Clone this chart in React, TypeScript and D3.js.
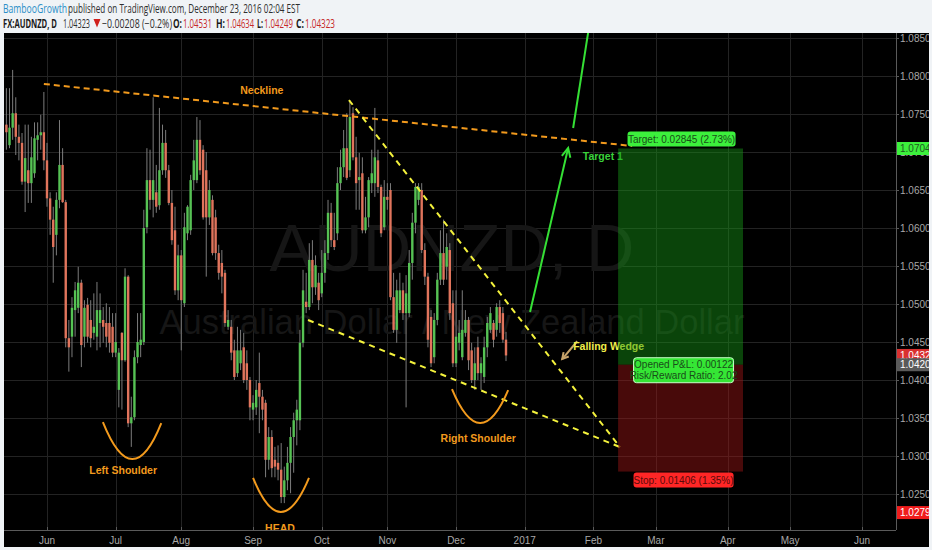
import React from 'react';
import * as d3 from 'd3';

const W = 932;
const H = 550;
const plot = { left: 4, right: 896, top: 33, bottom: 530, panelRight: 929, panelBottom: 547 };

// first daily bar shown (FX, weekdays only)
const firstBar = new Date(2016, 4, 13);

// daily candles [open, high, low, close]
const candles: number[][] = [
  [1.0736, 1.0784, 1.0703, 1.0726], [1.0709, 1.0784, 1.0705, 1.0732], [1.0732, 1.0808, 1.0716, 1.0751],
  [1.0751, 1.0772, 1.0696, 1.0720], [1.0720, 1.0736, 1.0689, 1.0712], [1.0712, 1.0725, 1.0657, 1.0661],
  [1.0661, 1.0736, 1.0621, 1.0692], [1.0676, 1.0736, 1.0633, 1.0659], [1.0659, 1.0720, 1.0633, 1.0693],
  [1.0672, 1.0739, 1.0666, 1.0718], [1.0716, 1.0739, 1.0689, 1.0722], [1.0722, 1.0749, 1.0703, 1.0726],
  [1.0726, 1.0779, 1.0676, 1.0689], [1.0689, 1.0712, 1.0628, 1.0639], [1.0639, 1.0647, 1.0591, 1.0611],
  [1.0611, 1.0628, 1.0528, 1.0575], [1.0591, 1.0647, 1.0564, 1.0637], [1.0637, 1.0742, 1.0626, 1.0683],
  [1.0683, 1.0705, 1.0633, 1.0634], [1.0634, 1.0637, 1.0443, 1.0455], [1.0455, 1.0479, 1.0411, 1.0443],
  [1.0457, 1.0509, 1.0430, 1.0495], [1.0492, 1.0529, 1.0457, 1.0518], [1.0495, 1.0549, 1.0488, 1.0528],
  [1.0528, 1.0532, 1.0417, 1.0446], [1.0457, 1.0505, 1.0443, 1.0495], [1.0499, 1.0508, 1.0449, 1.0457],
  [1.0479, 1.0505, 1.0443, 1.0455], [1.0462, 1.0514, 1.0453, 1.0470], [1.0457, 1.0529, 1.0439, 1.0492],
  [1.0475, 1.0514, 1.0443, 1.0492], [1.0479, 1.0496, 1.0449, 1.0470], [1.0475, 1.0501, 1.0443, 1.0457],
  [1.0475, 1.0496, 1.0436, 1.0449], [1.0470, 1.0488, 1.0430, 1.0436], [1.0436, 1.0488, 1.0430, 1.0450],
  [1.0387, 1.0442, 1.0364, 1.0436], [1.0462, 1.0463, 1.0361, 1.0426], [1.0426, 1.0547, 1.0424, 1.0536],
  [1.0536, 1.0538, 1.0338, 1.0343], [1.0343, 1.0378, 1.0312, 1.0351], [1.0351, 1.0439, 1.0347, 1.0430],
  [1.0430, 1.0488, 1.0422, 1.0450], [1.0446, 1.0488, 1.0430, 1.0453], [1.0450, 1.0624, 1.0446, 1.0600],
  [1.0601, 1.0705, 1.0593, 1.0663], [1.0663, 1.0703, 1.0624, 1.0637], [1.0637, 1.0772, 1.0614, 1.0663],
  [1.0647, 1.0683, 1.0620, 1.0628], [1.0630, 1.0758, 1.0624, 1.0676], [1.0676, 1.0736, 1.0670, 1.0712],
  [1.0712, 1.0729, 1.0666, 1.0676], [1.0676, 1.0683, 1.0630, 1.0633], [1.0633, 1.0650, 1.0578, 1.0584],
  [1.0597, 1.0628, 1.0512, 1.0518], [1.0518, 1.0578, 1.0505, 1.0564], [1.0564, 1.0571, 1.0439, 1.0505],
  [1.0501, 1.0620, 1.0496, 1.0601], [1.0593, 1.0630, 1.0584, 1.0628], [1.0597, 1.0670, 1.0591, 1.0663],
  [1.0663, 1.0716, 1.0650, 1.0689], [1.0663, 1.0746, 1.0659, 1.0716], [1.0716, 1.0742, 1.0670, 1.0676],
  [1.0703, 1.0709, 1.0611, 1.0614], [1.0676, 1.0700, 1.0536, 1.0614], [1.0614, 1.0663, 1.0604, 1.0650],
  [1.0637, 1.0643, 1.0564, 1.0567], [1.0614, 1.0624, 1.0558, 1.0567], [1.0567, 1.0578, 1.0532, 1.0541],
  [1.0554, 1.0571, 1.0514, 1.0536], [1.0541, 1.0545, 1.0470, 1.0475], [1.0470, 1.0492, 1.0466, 1.0479],
  [1.0470, 1.0479, 1.0426, 1.0436], [1.0439, 1.0453, 1.0400, 1.0404], [1.0409, 1.0470, 1.0404, 1.0439],
  [1.0422, 1.0466, 1.0413, 1.0439], [1.0443, 1.0462, 1.0396, 1.0400], [1.0422, 1.0439, 1.0387, 1.0400],
  [1.0400, 1.0404, 1.0347, 1.0364], [1.0361, 1.0380, 1.0347, 1.0370], [1.0364, 1.0400, 1.0354, 1.0387],
  [1.0396, 1.0436, 1.0330, 1.0378], [1.0378, 1.0387, 1.0347, 1.0361], [1.0370, 1.0374, 1.0272, 1.0295],
  [1.0295, 1.0338, 1.0282, 1.0325], [1.0325, 1.0334, 1.0272, 1.0284], [1.0295, 1.0312, 1.0272, 1.0286],
  [1.0291, 1.0314, 1.0268, 1.0282], [1.0282, 1.0317, 1.0238, 1.0246], [1.0246, 1.0286, 1.0238, 1.0268],
  [1.0268, 1.0312, 1.0255, 1.0291], [1.0291, 1.0338, 1.0251, 1.0325], [1.0325, 1.0357, 1.0278, 1.0347],
  [1.0347, 1.0374, 1.0314, 1.0361], [1.0347, 1.0466, 1.0334, 1.0449], [1.0449, 1.0545, 1.0443, 1.0518],
  [1.0503, 1.0541, 1.0488, 1.0496], [1.0496, 1.0580, 1.0492, 1.0558], [1.0558, 1.0584, 1.0501, 1.0522],
  [1.0522, 1.0564, 1.0512, 1.0551], [1.0528, 1.0541, 1.0492, 1.0505], [1.0514, 1.0571, 1.0509, 1.0541],
  [1.0541, 1.0584, 1.0528, 1.0567], [1.0567, 1.0637, 1.0558, 1.0620], [1.0620, 1.0633, 1.0575, 1.0584],
  [1.0584, 1.0620, 1.0571, 1.0575], [1.0593, 1.0680, 1.0584, 1.0659], [1.0659, 1.0703, 1.0650, 1.0680],
  [1.0680, 1.0729, 1.0667, 1.0705], [1.0705, 1.0751, 1.0663, 1.0666], [1.0676, 1.0768, 1.0667, 1.0746],
  [1.0751, 1.0759, 1.0689, 1.0693], [1.0693, 1.0720, 1.0624, 1.0659], [1.0663, 1.0699, 1.0624, 1.0667],
  [1.0672, 1.0693, 1.0593, 1.0597], [1.0597, 1.0641, 1.0593, 1.0614], [1.0614, 1.0667, 1.0601, 1.0663],
  [1.0659, 1.0703, 1.0646, 1.0672], [1.0659, 1.0758, 1.0641, 1.0693], [1.0689, 1.0703, 1.0646, 1.0654],
  [1.0654, 1.0657, 1.0588, 1.0593], [1.0601, 1.0663, 1.0597, 1.0641], [1.0641, 1.0659, 1.0624, 1.0637],
  [1.0650, 1.0659, 1.0505, 1.0509], [1.0509, 1.0541, 1.0462, 1.0466], [1.0466, 1.0532, 1.0449, 1.0518],
  [1.0492, 1.0541, 1.0488, 1.0518], [1.0518, 1.0528, 1.0479, 1.0488], [1.0488, 1.0538, 1.0364, 1.0514],
  [1.0488, 1.0571, 1.0483, 1.0554], [1.0554, 1.0620, 1.0532, 1.0607], [1.0607, 1.0659, 1.0593, 1.0654],
  [1.0637, 1.0659, 1.0630, 1.0654], [1.0650, 1.0659, 1.0567, 1.0571], [1.0571, 1.0580, 1.0525, 1.0536],
  [1.0536, 1.0541, 1.0443, 1.0453], [1.0483, 1.0492, 1.0417, 1.0422], [1.0430, 1.0488, 1.0422, 1.0479],
  [1.0479, 1.0541, 1.0472, 1.0532], [1.0532, 1.0597, 1.0525, 1.0567], [1.0567, 1.0611, 1.0525, 1.0532],
  [1.0549, 1.0593, 1.0532, 1.0575], [1.0571, 1.0580, 1.0479, 1.0488], [1.0501, 1.0518, 1.0417, 1.0422],
  [1.0422, 1.0518, 1.0417, 1.0457], [1.0449, 1.0479, 1.0439, 1.0462], [1.0430, 1.0518, 1.0426, 1.0466],
  [1.0462, 1.0492, 1.0457, 1.0479], [1.0479, 1.0483, 1.0413, 1.0426], [1.0439, 1.0449, 1.0396, 1.0400],
  [1.0400, 1.0443, 1.0387, 1.0422], [1.0443, 1.0457, 1.0400, 1.0409], [1.0409, 1.0430, 1.0387, 1.0422],
  [1.0404, 1.0457, 1.0396, 1.0443], [1.0443, 1.0483, 1.0430, 1.0475], [1.0466, 1.0496, 1.0462, 1.0488],
  [1.0475, 1.0479, 1.0443, 1.0453], [1.0466, 1.0501, 1.0457, 1.0496], [1.0496, 1.0505, 1.0462, 1.0475],
  [1.0488, 1.0496, 1.0449, 1.04531], [1.04531, 1.04634, 1.04249, 1.04323],
];

const priceTicks = [1.025, 1.03, 1.035, 1.04, 1.045, 1.05, 1.055, 1.06, 1.065, 1.07, 1.075, 1.08, 1.085];
const monthStarts = [
  new Date(2016, 5, 1), new Date(2016, 6, 1), new Date(2016, 7, 1), new Date(2016, 8, 1),
  new Date(2016, 9, 3), new Date(2016, 10, 1), new Date(2016, 11, 1), new Date(2017, 0, 2),
  new Date(2017, 1, 1), new Date(2017, 2, 1), new Date(2017, 3, 3), new Date(2017, 4, 1), new Date(2017, 5, 1),
];
const monthLabels = ['Jun', 'Jul', 'Aug', 'Sep', 'Oct', 'Nov', 'Dec', '2017', 'Feb', 'Mar', 'Apr', 'May', 'Jun'];

// position tool
const entryPrice = 1.04201;
const targetPrice = 1.07046;
const stopPrice = 1.02795;
const lastPrice = 1.04323;
const positionBars = [195.9, 235.9];

// drawings, as [bar index, price]
const neckline = [[12.0, 1.07895], [200.4, 1.07079]];
const wedgeUpper = [[109.7, 1.07684], [196.5, 1.03118]];
const wedgeLower = [[96.6, 1.04789], [196.5, 1.03118]];
const targetArrow = [[167.7, 1.04895], [179.9, 1.07053]];
const targetLine2 = [[181.5, 1.07316], [186.8, 1.0870]];
const wedgeArrow = [[182.8, 1.0451], [178.0, 1.04276]];
// arcs: start, bottom, end
const shoulderArcs = [
  [[30.9, 1.03447], [40.3, 1.02960], [49.6, 1.03434]],
  [[79.0, 1.02711], [87.9, 1.02263], [96.9, 1.02711]],
  [[142.7, 1.03881], [151.7, 1.03435], [160.7, 1.03868]],
];
const patternLabels = [
  { text: 'Neckline', at: [81.8, 1.0776] },
  { text: 'Left Shoulder', at: [37.4, 1.0276] },
  { text: 'HEAD', at: [87.6, 1.0200] },
  { text: 'Right Shoulder', at: [151.1, 1.0319] },
];

function barIndex(d: Date) {
  let n = 0;
  const cur = new Date(firstBar);
  while (cur < d) {
    const wd = cur.getDay();
    if (wd !== 0 && wd !== 6) n++;
    cur.setDate(cur.getDate() + 1);
  }
  return n;
}

const x = d3.scaleLinear().domain([-0.77, 284.9]).range([plot.left, plot.right]);
const y = d3.scaleLinear().domain([1.0500, 1.0850]).range([304, 38]);

const pt = (p: number[]) => [x(p[0]), y(p[1])];

const arcPath = (a: number[][]) => {
  const [s, b, e] = a.map(pt);
  const cx = 2 * b[0] - (s[0] + e[0]) / 2;
  const cy = 2 * b[1] - (s[1] + e[1]) / 2;
  const p = d3.path();
  p.moveTo(s[0], s[1]);
  p.quadraticCurveTo(cx, cy, e[0], e[1]);
  return p.toString();
};

const arrowHead = (from: number[], to: number[], len = 10, ang = 0.45) => {
  const [x1, y1] = pt(from);
  const [x2, y2] = pt(to);
  const a = Math.atan2(y1 - y2, x1 - x2);
  const p = d3.path();
  p.moveTo(x2 + len * Math.cos(a + ang), y2 + len * Math.sin(a + ang));
  p.lineTo(x2, y2);
  p.lineTo(x2 + len * Math.cos(a - ang), y2 + len * Math.sin(a - ang));
  return p.toString();
};

const seg = (l: number[][]) => {
  const [a, b] = l.map(pt);
  return { x1: a[0], y1: a[1], x2: b[0], y2: b[1] };
};

const GREEN = '#56c254';
const RED = '#e0745c';
const ORANGE = '#f29a1d';
const YELLOW = '#f4f23c';
const LIME = '#35e035';
const axisFont = '"Liberation Sans", Arial, sans-serif';

// header pieces: text, left, width, colour, bold
const headerLine1 = [
  ['BambooGrowth', 3, 64, '#2a8fc8', false],
  ['published on TradingView.com, December 23, 2016 02:04 EST', 68, 232, '#2e2e2e', false],
];
const headerLine2 = [
  ['FX:AUDNZD, D', 3, 54, '#1a1a1a', true],
  ['1.04323', 63, 27, '#2e2e2e', false],
  ['−0.00208 (−0.2%)', 102, 70, '#2e2e2e', false],
  ['O:', 173, 9, '#1a1a1a', true],
  ['1.04531', 183, 29, '#c62828', false],
  ['H:', 216, 9, '#1a1a1a', true],
  ['1.04634', 226, 28, '#c62828', false],
  ['L:', 257, 6, '#1a1a1a', true],
  ['1.04249', 264, 29, '#c62828', false],
  ['C:', 296, 8, '#1a1a1a', true],
  ['1.04323', 305, 30, '#c62828', false],
];

export default function App() {
  const monthX = monthStarts.map((d) => x(barIndex(d)));
  const box = { x0: x(positionBars[0]), x1: x(positionBars[1]) };
  const boxMid = (box.x0 + box.x1) / 2;

  const headerText = (row: any[], yy: number) =>
    row.map(([t, left, w, col, bold]) => (
      <text key={t + left} x={left} y={yy} fill={col} fontWeight={bold ? 'bold' : 'normal'} textLength={w} lengthAdjust="spacingAndGlyphs">
        {t}
      </text>
    ));

  return (
    <div style={{ position: 'fixed', left: 0, top: 0 }}>
      <svg width={W} height={H} style={{ display: 'block', background: '#f0f3f6' }}>
        <defs>
          <clipPath id="plotClip">
            <rect x={plot.left} y={plot.top} width={plot.right - plot.left} height={plot.bottom - plot.top} />
          </clipPath>
          <clipPath id="panelClip">
            <rect x={plot.left} y={plot.top} width={plot.panelRight - plot.left} height={plot.panelBottom - plot.top} />
          </clipPath>
        </defs>

        {/* header */}
        <g fontFamily='"Open Sans", sans-serif' fontSize={12}>
          {headerText(headerLine1, 12.5)}
          {headerText(headerLine2, 27.5)}
          <path d="M93.5,19 L100.5,19 L97,27.5 Z" fill="#d0201c" />
        </g>

        {/* panel */}
        <rect x={plot.left} y={plot.top} width={plot.panelRight - plot.left} height={plot.panelBottom - plot.top} fill="#000" />

        {/* grid */}
        <g stroke="#232323" strokeWidth={1}>
          {priceTicks.map((p) => (
            <line key={p} x1={plot.left} x2={plot.right} y1={Math.round(y(p)) + 0.5} y2={Math.round(y(p)) + 0.5} />
          ))}
          {monthX.map((mx, i) => (
            <line key={i} x1={Math.round(mx) + 0.5} x2={Math.round(mx) + 0.5} y1={plot.top} y2={plot.bottom} />
          ))}
        </g>

        <g clipPath="url(#plotClip)">
          {/* watermark */}
          <g fontFamily={axisFont} fill="#161616" textAnchor="middle">
            <text x={(plot.left + plot.right) / 2 + 2} y={271} fontSize={67}>AUDNZD, D</text>
            <text x={(plot.left + plot.right) / 2 + 2} y={334} fontSize={34.5}>Australian Dollar / New Zealand Dollar</text>
          </g>

          {/* candles */}
          {candles.map((c, i) => {
            const [o, h, l, cl] = c;
            const cx = x(i);
            const up = cl >= o;
            const top = y(Math.max(o, cl));
            const bot = y(Math.min(o, cl));
            return (
              <g key={i}>
                <line x1={cx} x2={cx} y1={y(h)} y2={y(l)} stroke="#7c7c7c" strokeWidth={1} />
                <rect x={cx - 1.2} y={top} width={2.4} height={Math.max(1, bot - top)} fill={up ? GREEN : RED} />
              </g>
            );
          })}

          {/* pattern drawings */}
          <line {...seg(neckline)} stroke={ORANGE} strokeWidth={2} strokeDasharray="6 4" />
          <line {...seg(wedgeUpper)} stroke={YELLOW} strokeWidth={2} strokeDasharray="6 5" />
          <line {...seg(wedgeLower)} stroke={YELLOW} strokeWidth={2} strokeDasharray="6 5" />
          {shoulderArcs.map((a, i) => (
            <path key={i} d={arcPath(a)} fill="none" stroke={ORANGE} strokeWidth={2} />
          ))}
          <g fontFamily={axisFont} fontWeight="bold" fontSize={10.5} fill={ORANGE} textAnchor="middle">
            {patternLabels.map((l) => (
              <text key={l.text} x={x(l.at[0])} y={y(l.at[1])}>{l.text}</text>
            ))}
          </g>

          <line {...seg(targetArrow)} stroke={LIME} strokeWidth={2} />
          <path d={arrowHead(targetArrow[0], targetArrow[1])} fill="none" stroke={LIME} strokeWidth={2} />
          <line {...seg(targetLine2)} stroke={LIME} strokeWidth={2} />
          <text x={x(184.6)} y={y(1.0690)} fontFamily={axisFont} fontWeight="bold" fontSize={10.5} fill="#3ad23a">Target 1</text>

          <line {...seg(wedgeArrow)} stroke="#c8a46a" strokeWidth={2} />
          <path d={arrowHead(wedgeArrow[0], wedgeArrow[1], 7, 0.5)} fill="none" stroke="#c8a46a" strokeWidth={2} />
          <text x={x(181.5)} y={y(1.0440)} fontFamily={axisFont} fontWeight="bold" fontSize={10.5} fill="#f2ee4a">Falling Wedge</text>

          {/* long position */}
          <rect x={box.x0} y={y(targetPrice)} width={box.x1 - box.x0} height={y(entryPrice) - y(targetPrice)} fill="rgba(22,150,22,0.45)" />
          <rect x={box.x0} y={y(entryPrice)} width={box.x1 - box.x0} height={y(stopPrice) - y(entryPrice)} fill="rgba(160,22,22,0.45)" />
        </g>

        {/* position labels */}
        <g fontFamily={axisFont} fontSize={10} textAnchor="middle">
          <rect x={boxMid - 53} y={y(targetPrice) - 17} width={108} height={15} rx={3} fill="#3cf03c" />
          <text x={boxMid + 1} y={y(targetPrice) - 6} fill="#194d19">Target: 0.02845 (2.73%)</text>
          <rect x={boxMid - 47} y={y(entryPrice) - 7} width={100} height={25} rx={3} fill="#35e635" stroke="#c8ffc8" strokeWidth={1} />
          <text x={boxMid + 3} y={y(entryPrice) + 3} fill="#194d19">Opened P&amp;L: 0.00122</text>
          <text x={boxMid + 3} y={y(entryPrice) + 14} fill="#194d19">Risk/Reward Ratio: 2.02</text>
          <rect x={boxMid - 47} y={y(stopPrice) + 1} width={100} height={15} rx={3} fill="#ff2626" />
          <text x={boxMid + 3} y={y(stopPrice) + 12} fill="#5a0a0a">Stop: 0.01406 (1.35%)</text>
        </g>

        {/* axes */}
        <g clipPath="url(#panelClip)">
          <line x1={plot.right + 0.5} x2={plot.right + 0.5} y1={plot.top} y2={plot.bottom} stroke="#5a5a5a" />
          <line x1={plot.left} x2={plot.right} y1={plot.bottom + 0.5} y2={plot.bottom + 0.5} stroke="#5a5a5a" />
          <g fontFamily={axisFont} fontSize={10} fill="#a8a8a8">
            {priceTicks.map((p) => (
              <g key={p}>
                <line x1={plot.right} x2={plot.right + 3} y1={Math.round(y(p)) + 0.5} y2={Math.round(y(p)) + 0.5} stroke="#5a5a5a" />
                <text x={plot.right + 4} y={y(p) + 3.5}>{p.toFixed(5)}</text>
              </g>
            ))}
            {monthX.map((mx, i) => (
              <g key={i}>
                <line x1={Math.round(mx) + 0.5} x2={Math.round(mx) + 0.5} y1={plot.bottom - 3} y2={plot.bottom} stroke="#5a5a5a" />
                <text x={mx} y={544} textAnchor="middle">{monthLabels[i]}</text>
              </g>
            ))}
          </g>
          {[
            { p: targetPrice, yy: y(targetPrice), bg: '#3cf03c', fg: '#1f5a1f' },
            { p: lastPrice, yy: y(lastPrice), bg: '#d93030', fg: '#fff' },
            { p: entryPrice, yy: y(entryPrice), bg: '#5a5a5a', fg: '#fff' },
            // the stop tag sits below the 1.02500 level in the source
            { p: stopPrice, yy: y(stopPrice) + 41, bg: '#f01c1c', fg: '#fff' },
          ].map((t) => (
            <g key={t.p}>
              <rect x={plot.right + 1} y={t.yy - 6.5} width={plot.panelRight - plot.right} height={13} fill={t.bg} />
              <text x={plot.right + 4} y={t.yy + 3.5} fontFamily={axisFont} fontSize={10} fill={t.fg}>{t.p.toFixed(5)}</text>
            </g>
          ))}
        </g>
      </svg>
    </div>
  );
}
